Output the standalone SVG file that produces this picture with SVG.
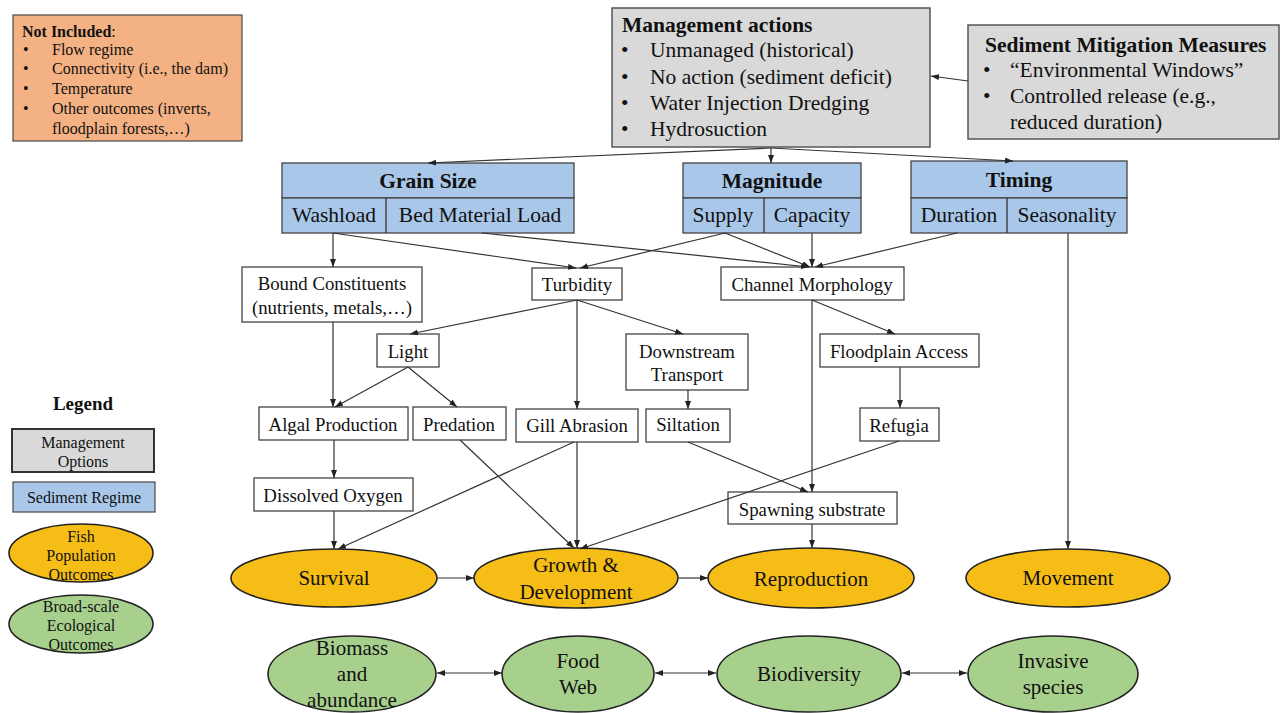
<svg xmlns="http://www.w3.org/2000/svg" width="1283" height="713" viewBox="0 0 1283 713">
<style>
text{font-family:"Liberation Serif","Times New Roman",serif;fill:#111;dominant-baseline:central}
.c{text-anchor:middle}
.b{font-weight:bold}
.box{fill:#fff;stroke:#444;stroke-width:1.3}
.gray{fill:#d9d9d9;stroke:#555;stroke-width:1.5}
.blue{fill:#a9c7e8;stroke:#444;stroke-width:1.3}
.fish{fill:#f6bd16;stroke:#222;stroke-width:1.6}
.eco{fill:#a8d08d;stroke:#222;stroke-width:1.6}
.e{stroke:#333;stroke-width:1.2;fill:none;marker-end:url(#ah)}
.d{marker-start:url(#ah)}
.f16{font-size:18.8px}
.f19{font-size:21.5px}
.f20{font-size:21px}
.f14{font-size:16px}
.f13{font-size:16px}
</style>
<defs>
<marker id="ah" markerUnits="userSpaceOnUse" markerWidth="9" markerHeight="7" refX="8" refY="3" orient="auto-start-reverse"><path d="M0,0 L8,3 L0,6 z" fill="#222"/></marker>
</defs>
<rect width="1283" height="713" fill="#fff"/>

<g id="not-included">
<rect x="13" y="15" width="229" height="126" fill="#f4b183" stroke="#555" stroke-width="1.3"/>
<text x="22" y="31" class="f14"><tspan class="b">Not Included</tspan>:</text>
<text x="23" y="49" class="f14">•</text><text x="52" y="49" class="f14">Flow regime</text>
<text x="23" y="68" class="f14">•</text><text x="52" y="68" class="f14">Connectivity (i.e., the dam)</text>
<text x="23" y="88" class="f14">•</text><text x="52" y="88" class="f14">Temperature</text>
<text x="23" y="108" class="f14">•</text><text x="52" y="108" class="f14">Other outcomes (inverts,</text>
<text x="52" y="128" class="f14">floodplain forests,…)</text>
</g>

<g id="management">
<rect x="612" y="8" width="318" height="139" class="gray"/>
<text x="622" y="25" class="f19 b">Management actions</text>
<text x="621" y="50" class="f19">•</text><text x="650" y="50" class="f19">Unmanaged (historical)</text>
<text x="621" y="77" class="f19">•</text><text x="650" y="77" class="f19">No action (sediment deficit)</text>
<text x="621" y="103" class="f19">•</text><text x="650" y="103" class="f19">Water Injection Dredging</text>
<text x="621" y="129" class="f19">•</text><text x="650" y="129" class="f19">Hydrosuction</text>
</g>

<g id="mitigation">
<rect x="968" y="25" width="311" height="114" class="gray"/>
<text x="985" y="45" class="f19 b">Sediment Mitigation Measures</text>
<text x="983" y="70" class="f19">•</text><text x="1010" y="70" class="f19">“Environmental Windows”</text>
<text x="983" y="96" class="f19">•</text><text x="1010" y="96" class="f19">Controlled release (e.g.,</text>
<text x="1010" y="122" class="f19">reduced duration)</text>
</g>

<g id="grain-size">
<rect x="282" y="163" width="292" height="35" class="blue"/>
<rect x="282" y="198" width="292" height="35" class="blue"/>
<line x1="386" y1="198" x2="386" y2="233" stroke="#333" stroke-width="1.3"/>
<text x="428" y="181" class="c f19 b">Grain Size</text>
<text x="334" y="215" class="c f19">Washload</text>
<text x="480" y="215" class="c f19">Bed Material Load</text>
</g>

<g id="magnitude">
<rect x="683" y="163" width="178" height="35" class="blue"/>
<rect x="683" y="198" width="178" height="35" class="blue"/>
<line x1="764" y1="198" x2="764" y2="233" stroke="#333" stroke-width="1.3"/>
<text x="772" y="181" class="c f19 b">Magnitude</text>
<text x="723" y="215" class="c f19">Supply</text>
<text x="812" y="215" class="c f19">Capacity</text>
</g>

<g id="timing">
<rect x="911" y="161" width="216" height="37" class="blue"/>
<rect x="911" y="198" width="216" height="35" class="blue"/>
<line x1="1007" y1="198" x2="1007" y2="233" stroke="#333" stroke-width="1.3"/>
<text x="1019" y="180" class="c f19 b">Timing</text>
<text x="959" y="215" class="c f19">Duration</text>
<text x="1067" y="215" class="c f19">Seasonality</text>
</g>

<g id="bound"><rect x="242" y="267" width="180" height="55" class="box"/>
<text x="332" y="283" class="c f16">Bound Constituents</text>
<text x="332" y="307" class="c f16">(nutrients, metals,…)</text></g>
<g id="turbidity"><rect x="532" y="268" width="90" height="32" class="box"/><text x="577" y="284" class="c f16">Turbidity</text></g>
<g id="channel"><rect x="721" y="267" width="183" height="33" class="box"/><text x="812" y="284" class="c f16">Channel Morphology</text></g>
<g id="light"><rect x="377" y="334" width="62" height="33" class="box"/><text x="408" y="351" class="c f16">Light</text></g>
<g id="downstream"><rect x="626" y="334" width="122" height="56" class="box"/>
<text x="687" y="351" class="c f16">Downstream</text><text x="687" y="374" class="c f16">Transport</text></g>
<g id="floodplain"><rect x="820" y="334" width="159" height="33" class="box"/><text x="899" y="351" class="c f16">Floodplain Access</text></g>
<g id="algal"><rect x="259" y="407" width="149" height="33" class="box"/><text x="333" y="424" class="c f16">Algal Production</text></g>
<g id="predation"><rect x="413" y="407" width="93" height="33" class="box"/><text x="459" y="424" class="c f16">Predation</text></g>
<g id="gill"><rect x="516" y="409" width="122" height="33" class="box"/><text x="577" y="425" class="c f16">Gill Abrasion</text></g>
<g id="siltation"><rect x="646" y="409" width="84" height="33" class="box"/><text x="688" y="424" class="c f16">Siltation</text></g>
<g id="refugia"><rect x="860" y="408" width="79" height="33" class="box"/><text x="899" y="425" class="c f16">Refugia</text></g>
<g id="oxygen"><rect x="254" y="478" width="159" height="33" class="box"/><text x="333" y="495" class="c f16">Dissolved Oxygen</text></g>
<g id="spawning"><rect x="728" y="492" width="169" height="32" class="box"/><text x="812" y="509" class="c f16">Spawning substrate</text></g>

<g id="survival"><ellipse cx="334" cy="578" rx="103" ry="29" class="fish"/><text x="334" y="578" class="c f20">Survival</text></g>
<g id="growth"><ellipse cx="576" cy="578" rx="102" ry="30" class="fish"/>
<text x="576" y="565" class="c f20">Growth &amp;</text><text x="576" y="592" class="c f20">Development</text></g>
<g id="reproduction"><ellipse cx="811" cy="578" rx="103" ry="30" class="fish"/><text x="811" y="579" class="c f20">Reproduction</text></g>
<g id="movement"><ellipse cx="1068" cy="578" rx="102" ry="29" class="fish"/><text x="1068" y="578" class="c f20">Movement</text></g>

<g id="biomass"><ellipse cx="352" cy="674" rx="84" ry="38" class="eco"/>
<text x="352" y="648" class="c f20">Biomass</text><text x="352" y="674" class="c f20">and</text><text x="352" y="700" class="c f20">abundance</text></g>
<g id="foodweb"><ellipse cx="578" cy="674" rx="76" ry="38" class="eco"/>
<text x="578" y="661" class="c f20">Food</text><text x="578" y="687" class="c f20">Web</text></g>
<g id="biodiversity"><ellipse cx="809" cy="674" rx="92" ry="38" class="eco"/><text x="809" y="674" class="c f20">Biodiversity</text></g>
<g id="invasive"><ellipse cx="1053" cy="674" rx="85" ry="38" class="eco"/>
<text x="1053" y="661" class="c f20">Invasive</text><text x="1053" y="687" class="c f20">species</text></g>

<g id="legend">
<text x="83" y="403" class="c b" style="font-size:19px">Legend</text>
<rect x="12" y="429" width="142" height="43" fill="#d9d9d9" stroke="#333" stroke-width="2"/>
<text x="83" y="442" class="c f13">Management</text><text x="83" y="461" class="c f13">Options</text>
<rect x="13" y="482" width="142" height="30" fill="#a9c7e8" stroke="#555" stroke-width="1.3"/>
<text x="84" y="497" class="c f13">Sediment Regime</text>
<ellipse cx="81" cy="553" rx="72" ry="29" class="fish"/>
<text x="81" y="536" class="c f13">Fish</text><text x="81" y="555" class="c f13">Population</text><text x="81" y="574" class="c f13">Outcomes</text>
<ellipse cx="81" cy="624" rx="72" ry="29" class="eco"/>
<text x="81" y="606" class="c f13">Broad-scale</text><text x="81" y="625" class="c f13">Ecological</text><text x="81" y="644" class="c f13">Outcomes</text>
</g>

<g id="connectors">
<path class="e" d="M968,81 L931,76"/>
<path class="e" d="M771,148 L428,163"/>
<path class="e" d="M771,148 L771,163"/>
<path class="e" d="M771,148 L1013,161"/>
<path class="e" d="M333,233 L333,267"/>
<path class="e" d="M333,233 L576,268"/>
<path class="e" d="M482,233 L809,267"/>
<path class="e" d="M725,233 L580,268"/>
<path class="e" d="M725,233 L810,267"/>
<path class="e" d="M812,233 L812,267"/>
<path class="e" d="M957,233 L815,267"/>
<path class="e" d="M1068,233 L1068,549"/>
<path class="e" d="M333,322 L333,407"/>
<path class="e" d="M577,300 L410,334"/>
<path class="e" d="M577,300 L577,409"/>
<path class="e" d="M577,300 L683,334"/>
<path class="e" d="M812,300 L895,334"/>
<path class="e" d="M812,300 L812,492"/>
<path class="e" d="M408,367 L335,407"/>
<path class="e" d="M408,367 L457,407"/>
<path class="e" d="M688,390 L688,409"/>
<path class="e" d="M900,367 L900,408"/>
<path class="e" d="M334,440 L334,478"/>
<path class="e" d="M334,511 L334,549"/>
<path class="e" d="M574,442 L338,549"/>
<path class="e" d="M460,440 L574,548"/>
<path class="e" d="M577,442 L577,548"/>
<path class="e" d="M899,441 L580,549"/>
<path class="e" d="M688,442 L808,492"/>
<path class="e" d="M812,524 L812,548"/>
<path class="e" d="M437,578 L474,578"/>
<path class="e" d="M679,578 L708,578"/>
<path class="e d" d="M437,673 L502,673"/>
<path class="e d" d="M655,673 L716,673"/>
<path class="e d" d="M902,673 L967,673"/>
</g>
</svg>
